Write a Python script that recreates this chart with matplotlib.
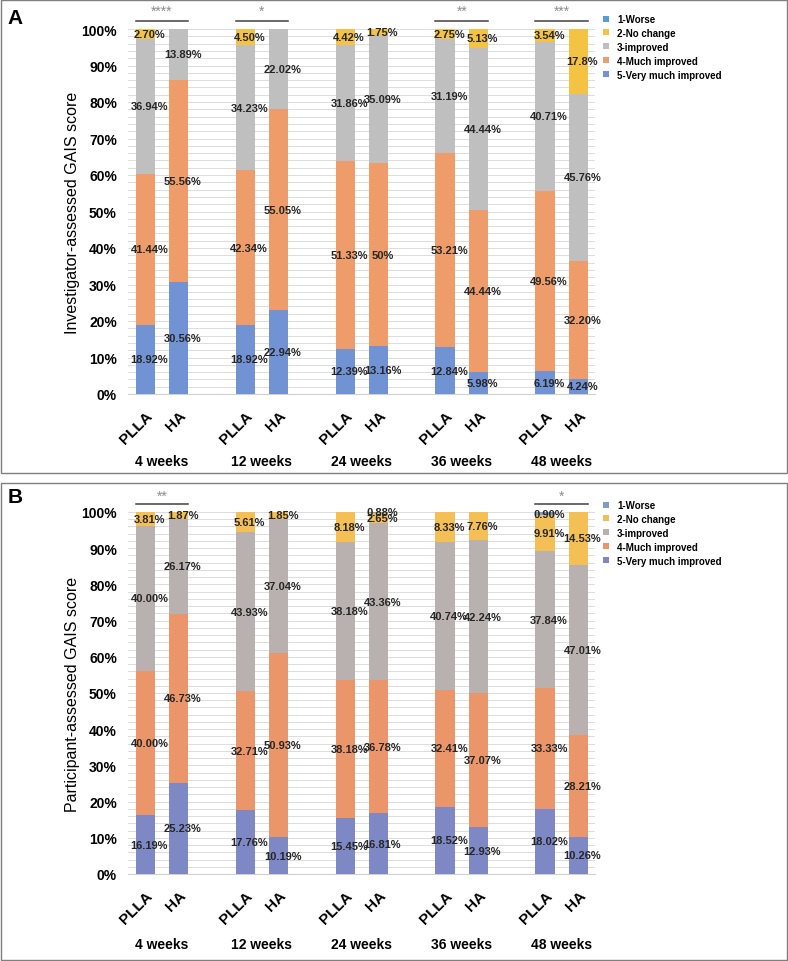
import matplotlib
matplotlib.use("Agg")
import matplotlib.pyplot as plt
from matplotlib.lines import Line2D
from matplotlib.patches import Rectangle
from matplotlib.transforms import blended_transform_factory
import numpy as np

plt.rcParams['font.family'] = ['Liberation Sans', 'DejaVu Sans']

weeks = ['4 weeks', '12 weeks', '24 weeks', '36 weeks', '48 weeks']
products = ['PLLA', 'HA']
categories = ['1-Worse', '2-No change', '3-improved', '4-Much improved', '5-Very much improved']

# Panel A: investigator-assessed (bar order: 4w PLLA, 4w HA, 12w PLLA, ...)
A_very = ['18.92', '30.56', '18.92', '22.94', '12.39', '13.16', '12.84', '5.98', '6.19', '4.24']
A_much = ['41.44', '55.56', '42.34', '55.05', '51.33', '50', '53.21', '44.44', '49.56', '32.20']
A_impr = ['36.94', '13.89', '34.23', '22.02', '31.86', '35.09', '31.19', '44.44', '40.71', '45.76']
A_noch = ['2.70', '', '4.50', '', '4.42', '1.75', '2.75', '5.13', '3.54', '17.8']
A_worse = ['', '', '', '', '', '', '', '', '', '']
A_sig = ['****', '*', '', '**', '***']

# Panel B: participant-assessed
B_very = ['16.19', '25.23', '17.76', '10.19', '15.45', '16.81', '18.52', '12.93', '18.02', '10.26']
B_much = ['40.00', '46.73', '32.71', '50.93', '38.18', '36.78', '32.41', '37.07', '33.33', '28.21']
B_impr = ['40.00', '26.17', '43.93', '37.04', '38.18', '43.36', '40.74', '42.24', '37.84', '47.01']
B_noch = ['3.81', '1.87', '5.61', '1.85', '8.18', '2.65', '8.33', '7.76', '9.91', '14.53']
B_worse = ['', '', '', '', '', '0.88', '', '', '0.90', '']
B_sig = ['**', '', '', '', '*']

colors_A = {'5': '#7193D4', '4': '#EE9D6A', '3': '#BFBFBF', '2': '#F5C343', '1': '#5B9BD5'}
colors_B = {'5': '#7D88C4', '4': '#EA956A', '3': '#B9B1AF', '2': '#F4C056', '1': '#7F9DC0'}

W, H = 788, 962
fig = plt.figure(figsize=(W / 100, H / 100), dpi=100)


def fx(px):
    return px / W


def fy(py):
    return 1 - py / H


def panel(ax_rect, series, sig, cols, ylabel, letter, letter_xy, box, legend_top, sig_line_px, sig_star_px, group_y):
    x0, y_top, x1, y_bot = ax_rect
    ax = fig.add_axes([fx(x0), fy(y_bot), fx(x1) - fx(x0), fy(y_top) - fy(y_bot)])
    pos = np.array([3 * g + p for g in range(len(weeks)) for p in range(2)])
    width = 0.58
    bottom = np.zeros(len(pos))
    order = [('5', series[0]), ('4', series[1]), ('3', series[2]), ('2', series[3]), ('1', series[4])]
    for key, vals in order:
        v = np.array([float(s) if s else 0.0 for s in vals])
        ax.bar(pos, v, width, bottom=bottom, color=cols[key], zorder=3, linewidth=0)
        for i, s in enumerate(vals):
            if s:
                ax.text(pos[i] + 0.12, bottom[i] + v[i] / 2, s + '%', ha='center', va='center',
                        fontsize=8, fontweight='bold', color='#262626', zorder=5, clip_on=False)
        bottom += v
    ax.set_xlim(-0.52, 13.5)
    ax.set_ylim(0, 100)
    ax.set_yticks(np.arange(0, 101, 10))
    ax.set_yticklabels([f'{t}%' for t in range(0, 101, 10)], fontsize=10, fontweight='bold')
    ax.set_yticks(np.arange(0, 101, 2), minor=True)
    ax.grid(axis='y', which='both', color='#DCDCDC', linewidth=0.7, zorder=0)
    ax.tick_params(axis='both', which='both', length=0)
    ax.tick_params(axis='y', pad=8)
    ax.set_xticks(pos)
    ax.set_xticklabels(products * len(weeks), rotation=45, ha='right', va='top',
                       rotation_mode='anchor', fontsize=11, fontweight='bold')
    ax.tick_params(axis='x', pad=10)
    for sp in ['top', 'right', 'left']:
        ax.spines[sp].set_visible(False)
    ax.spines['bottom'].set_color('#D0D0D0')
    ax.set_ylabel(ylabel, fontsize=11.5)
    ax.yaxis.set_label_coords((80 - x0) / (x1 - x0), 0.5)
    pxh = (y_bot - y_top) / 100.0
    tr = blended_transform_factory(ax.transData, ax.transAxes)
    for g, wk in enumerate(weeks):
        ax.text(3 * g + 0.5, -(group_y - y_bot) / (y_bot - y_top), wk, transform=tr,
                ha='center', va='center', fontsize=10, fontweight='bold')
        if sig[g]:
            yl = 100 + (y_top - sig_line_px) / pxh
            ys = 100 + (y_top - sig_star_px) / pxh
            ax.plot([3 * g - width / 2, 3 * g + 1 + width / 2], [yl, yl], color='#404040',
                    linewidth=1.1, clip_on=False, zorder=4)
            ax.text(3 * g + 0.5, ys, sig[g], ha='center', va='center', fontsize=10,
                    color='#8C8C8C', clip_on=False)
    handles = [Line2D([], [], linestyle='none', marker='s', markersize=4.2,
                      markerfacecolor=cols[str(k)], markeredgewidth=0) for k in range(1, 6)]
    fig.legend(handles, categories, loc='upper left', bbox_to_anchor=(fx(603), fy(legend_top)),
               frameon=False, prop={'size': 7, 'weight': 'bold'}, handlelength=0.7,
               handletextpad=0.75, labelspacing=0.4, borderpad=0, borderaxespad=0)
    fig.text(fx(letter_xy[0]), fy(letter_xy[1]), letter, fontsize=15, fontweight='bold',
             ha='left', va='center')
    bx0, by0, bx1, by1 = box
    fig.patches.append(Rectangle((fx(bx0), fy(by1)), fx(bx1) - fx(bx0), fy(by0) - fy(by1),
                                 transform=fig.transFigure, fill=False, edgecolor='#7F7F7F',
                                 linewidth=1.0))
    return ax


panel((128, 30, 595, 395), [A_very, A_much, A_impr, A_noch, A_worse], A_sig, colors_A,
      'Investigator-assessed GAIS score', 'A', (7, 19), (1, 1, 787, 474), 15, 22, 12, 462)
panel((128, 513, 595, 875), [B_very, B_much, B_impr, B_noch, B_worse], B_sig, colors_B,
      'Participant-assessed GAIS score', 'B', (8, 498), (1, 484, 787, 961), 501, 505, 497, 945)

fig.savefig('out.png', dpi=100)
